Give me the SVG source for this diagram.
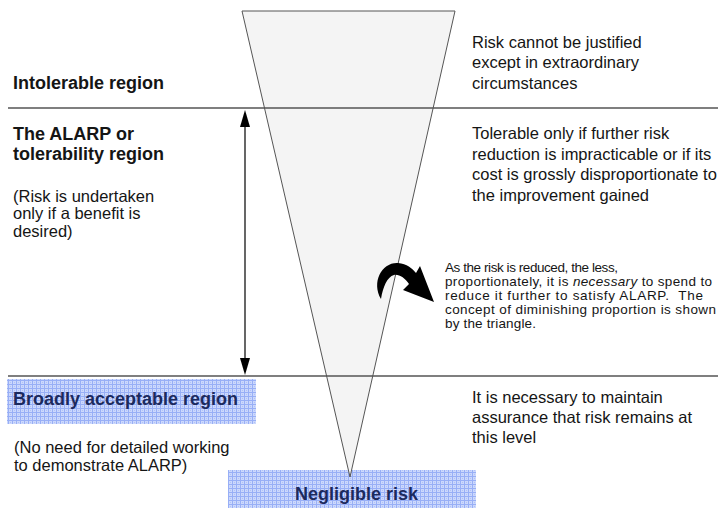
<svg xmlns="http://www.w3.org/2000/svg" width="718" height="508" viewBox="0 0 718 508">
  <defs>
    <pattern id="grid" width="4" height="4" patternUnits="userSpaceOnUse">
      <rect width="4" height="4" fill="#ccd8fc"/>
      <rect x="0" y="0" width="1" height="4" fill="#98aff6"/>
      <rect x="0" y="0" width="4" height="1" fill="#98aff6"/>
      <rect x="2" y="2" width="1" height="1" fill="#b0c2f8"/>
    </pattern>
  </defs>
  <style>
    text { font-family: "Liberation Sans", Arial, sans-serif; fill: #151515; }
    .h { font-size: 18px; font-weight: bold; }
    .b { font-size: 16.5px; }
    .s { font-size: 13.5px; }
    .lbl { font-size: 18px; font-weight: bold; fill: #1c2a5e; }
    .rule { stroke: #555; stroke-width: 1.3; }
    .box { fill: url(#grid); }
  </style>
  <rect width="718" height="508" fill="#fff"/>

  <g id="broadly-box">
    <rect class="box" x="7" y="379" width="249" height="45"/>
    <text class="lbl" x="13" y="405">Broadly acceptable region</text>
  </g>
  <g id="negligible-box">
    <rect class="box" x="228" y="470" width="248" height="38"/>
    <text class="lbl" x="295" y="500">Negligible risk</text>
  </g>

  <g id="triangle">
    <polygon points="242,11 455,11 350,477" fill="#f4f4f4" stroke="#555" stroke-width="1"/>
  </g>

  <g id="rules">
    <line class="rule" x1="8" y1="108" x2="718" y2="108"/>
    <line class="rule" x1="8" y1="376" x2="718" y2="376"/>
  </g>

  <g id="connectors">
    <line x1="245" y1="120" x2="245" y2="366" stroke="#000" stroke-width="1.2"/>
    <path d="M245,110 L250,127 L240,127 Z" fill="#000"/>
    <path d="M245,375 L250,358 L240,358 Z" fill="#000"/>
    <path d="M381,299 C371,282 382,262 398,263 C407,264 412,268 416,273 L420,266 L434,302 L403,290 L409,284 C405,278 399,274 394,275 C387,277 383,287 381,299 Z" fill="#000"/>
  </g>

  <g id="intolerable">
    <text class="h" x="13" y="89">Intolerable region</text>
    <text class="b" x="472" y="47.5">Risk cannot be justified</text>
    <text class="b" x="472" y="68">except in extraordinary</text>
    <text class="b" x="472" y="88.5">circumstances</text>
  </g>

  <g id="alarp">
    <text class="h" x="13" y="140">The ALARP or</text>
    <text class="h" x="13" y="159.5">tolerability region</text>
    <text class="b" x="13" y="201.5">(Risk is undertaken</text>
    <text class="b" x="13" y="219">only if a benefit is</text>
    <text class="b" x="13" y="236.5">desired)</text>
    <text class="b" x="472" y="139">Tolerable only if further risk</text>
    <text class="b" x="472" y="159.5">reduction is impracticable or if its</text>
    <text class="b" x="472" y="180">cost is grossly disproportionate to</text>
    <text class="b" x="472" y="200.5">the improvement gained</text>
  </g>

  <g id="note">
    <text class="s" x="445" y="272" textLength="173" lengthAdjust="spacing">As the risk is reduced, the less,</text>
    <text class="s" x="445" y="286" textLength="267" lengthAdjust="spacing">proportionately, it is <tspan font-style="italic">necessary</tspan> to spend to</text>
    <text class="s" x="445" y="300" textLength="258" lengthAdjust="spacing" xml:space="preserve">reduce it further to satisfy ALARP.  The</text>
    <text class="s" x="445" y="313.7" textLength="271" lengthAdjust="spacing">concept of diminishing proportion is shown</text>
    <text class="s" x="445" y="327.5" textLength="91" lengthAdjust="spacing">by the triangle.</text>
  </g>

  <g id="broadly">
    <text class="b" x="14" y="453">(No need for detailed working</text>
    <text class="b" x="14" y="471">to demonstrate ALARP)</text>
    <text class="b" x="472" y="403">It is necessary to maintain</text>
    <text class="b" x="472" y="423">assurance that risk remains at</text>
    <text class="b" x="472" y="443">this level</text>
  </g>
</svg>
